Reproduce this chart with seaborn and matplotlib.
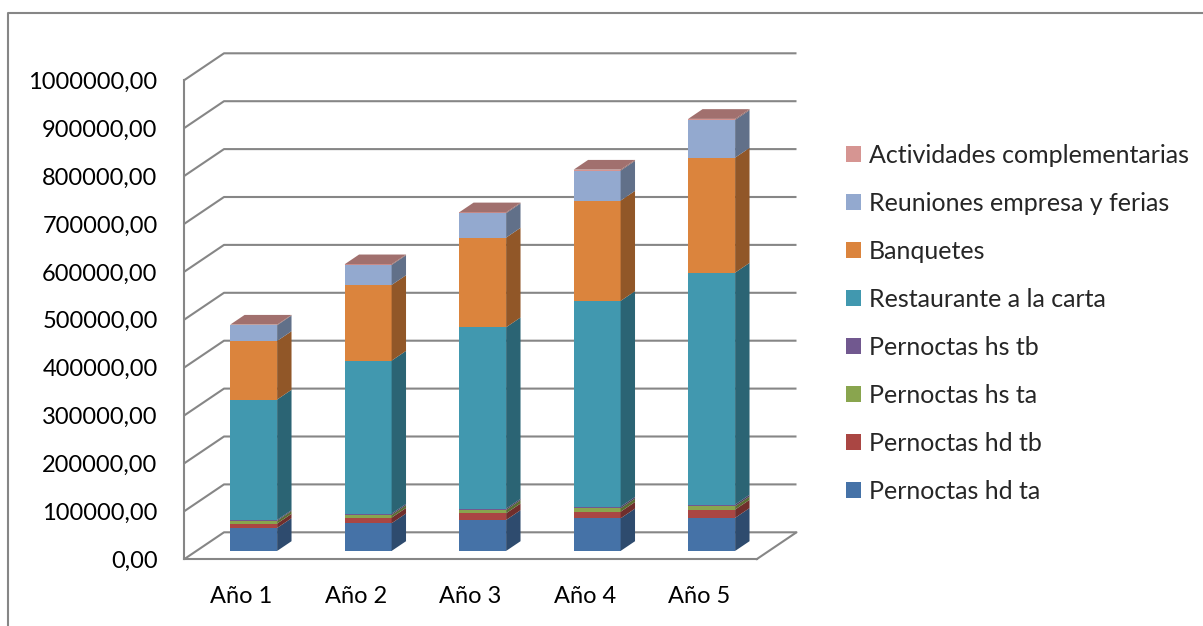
import numpy as np
import pandas as pd
import matplotlib
matplotlib.use("Agg")
import matplotlib.pyplot as plt
import seaborn as sns
from matplotlib.patches import Polygon, Patch
from matplotlib.lines import Line2D
from matplotlib.colors import to_rgb

# ---------------- data ----------------
years = ["Año 1", "Año 2", "Año 3", "Año 4", "Año 5"]
series = [
    "Pernoctas hd ta",
    "Pernoctas hd tb",
    "Pernoctas hs ta",
    "Pernoctas hs tb",
    "Restaurante a la carta",
    "Banquetes",
    "Reuniones empresa y ferias",
    "Actividades complementarias",
]
pernoctas_hd_ta = [48000, 57800, 64700, 68100, 69100]
pernoctas_hd_tb = [9200, 11700, 14000, 13800, 17300]
pernoctas_hs_ta = [5600, 5600, 6900, 7100, 6900]
pernoctas_hs_tb = [2000, 2700, 2800, 3300, 3500]
restaurante = [251300, 319500, 378600, 429700, 484200]
banquetes = [122300, 158000, 187200, 209400, 240100]
reuniones = [32800, 41700, 50900, 62600, 78700]
actividades = [1200, 1500, 1800, 2000, 2200]
y_ticks = [0, 100000, 200000, 300000, 400000, 500000,
           600000, 700000, 800000, 900000, 1000000]

values = [pernoctas_hd_ta, pernoctas_hd_tb, pernoctas_hs_ta, pernoctas_hs_tb,
          restaurante, banquetes, reuniones, actividades]
colors = ["#4572A7", "#AA4643", "#89A54E", "#71588F",
          "#4198AF", "#DB843D", "#93A9CF", "#D69592"]

df = pd.DataFrame({name: vals for name, vals in zip(series, values)}, index=years)
cum = df.cumsum(axis=1)

# ---------------- style ----------------
sns.set_theme(style="white")
plt.rcParams["font.family"] = ["Lato", "DejaVu Sans"]
GRID = "#868686"
FS_TICK = 17
FS_LEG = 18

W, H = 1203, 626
fig = plt.figure(figsize=(W / 100, H / 100), dpi=100)

# pixel layout of the front plane
X0, Y0 = 184, 559.3          # front-left corner of the floor
CAT_PX = 114.5               # width of one category
PX_PER_VAL = 479e-6          # pixels per unit of value
DEPTH = (40, 27)             # full depth of the box, px right / px up
XLIM = (-0.5, 5.0)
YLIM = (0, 1.1e6)

DX = DEPTH[0] / CAT_PX
DY = DEPTH[1] / PX_PER_VAL

def axes_rect(shift_x=0.0, shift_y=0.0):
    left = (X0 + shift_x) / W
    bottom = (H - Y0 + shift_y) / H
    width = (XLIM[1] - XLIM[0]) * CAT_PX / W
    height = (YLIM[1] - YLIM[0]) * PX_PER_VAL / H
    return [left, bottom, width, height]

# ---------------- walls, floor and axes ----------------
ax = fig.add_axes(axes_rect())
ax.set_xlim(*XLIM)
ax.set_ylim(*YLIM)
ax.patch.set_visible(False)

for v in y_ticks:
    ax.plot([-0.5, -0.5 + DX, 4.5 + DX], [v, v + DY, v + DY],
            color=GRID, lw=1.5, clip_on=False, solid_capstyle="butt", zorder=1)
ax.plot([4.5, 4.5 + DX], [0, DY], color=GRID, lw=1.5, clip_on=False, zorder=1)

for side in ("top", "right"):
    ax.spines[side].set_visible(False)
for side in ("left", "bottom"):
    ax.spines[side].set_color(GRID)
    ax.spines[side].set_linewidth(1.5)
ax.spines["left"].set_bounds(0, 1e6)
ax.spines["bottom"].set_bounds(-0.5, 4.5)

ax.set_yticks(y_ticks)
ax.set_yticklabels([f"{v:.2f}".replace(".", ",") for v in y_ticks])
ax.tick_params(axis="y", direction="out", length=6, width=1.5, color=GRID,
               pad=13, labelsize=FS_TICK, labelcolor="black")
ax.set_xticks(np.arange(-0.5, 5.0, 1.0))
ax.set_xticklabels([])
ax.set_xticks(np.arange(len(years)), minor=True)
ax.set_xticklabels(years, minor=True)
ax.tick_params(axis="x", which="major", direction="out", length=6, width=1.5,
               color=GRID)
ax.tick_params(axis="x", which="minor", length=0, pad=19, labelsize=FS_TICK,
               labelcolor="black")

# ---------------- bars ----------------
D0 = 0.31       # depth at which the bar fronts stand
DW = 0.36       # depth of each bar
BAR_W = 0.41

ax2 = fig.add_axes(axes_rect(D0 * DEPTH[0], D0 * DEPTH[1]))
# front faces: cumulative totals drawn from the top series down
for name, col in zip(reversed(series), reversed(colors)):
    sns.barplot(x=years, y=cum[name].values, color=col, width=BAR_W,
                saturation=1, errorbar=None, linewidth=0, ax=ax2, zorder=2)
ax2.set_xlim(*XLIM)
ax2.set_ylim(*YLIM)
ax2.axis("off")
ax2.patch.set_visible(False)

def shade(c, f):
    return tuple(min(1, x * f) for x in to_rgb(c))

hw = BAR_W / 2
ddx, ddy = DW * DX, DW * DY
for i in range(len(years)):
    bottom = 0.0
    for name, col in zip(series, colors):
        top = cum.loc[years[i], name]
        side = Polygon([(i + hw, bottom), (i + hw, top),
                        (i + hw + ddx, top + ddy), (i + hw + ddx, bottom + ddy)],
                       closed=True, facecolor=shade(col, 0.66), edgecolor="none",
                       clip_on=False, zorder=2)
        ax2.add_patch(side)
        bottom = top
    total = bottom
    lid = Polygon([(i - hw, total), (i + hw, total),
                   (i + hw + ddx, total + ddy), (i - hw + ddx, total + ddy)],
                  closed=True, facecolor=shade(colors[-1], 0.75), edgecolor="none",
                  clip_on=False, zorder=2)
    ax2.add_patch(lid)

# ---------------- legend ----------------
handles = [Patch(facecolor=c, edgecolor="none") for c in reversed(colors)]
fig.legend(handles, list(reversed(series)), loc="upper left",
           bbox_to_anchor=(846 / W, 1 - 144 / H), frameon=False,
           fontsize=FS_LEG, handlelength=0.6, handleheight=0.6,
           handletextpad=0.3, labelspacing=1.0, borderpad=0, borderaxespad=0)

# ---------------- outer frame ----------------
fig.add_artist(Line2D([8 / W, 8 / W, 1.0], [0.0, 1 - 13 / H, 1 - 13 / H],
                      transform=fig.transFigure, color=GRID, lw=1.5))

fig.savefig("out.png", dpi=100, facecolor="white")
